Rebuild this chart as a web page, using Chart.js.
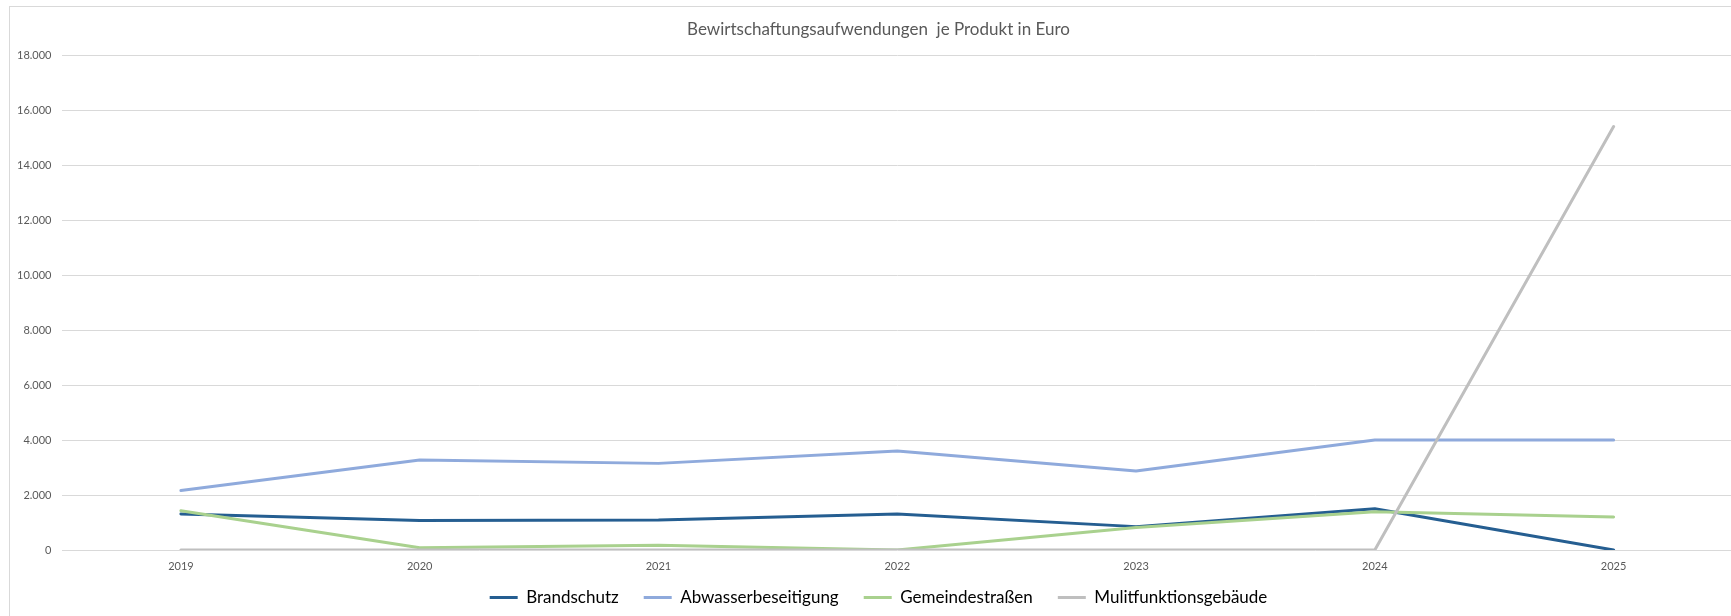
<!DOCTYPE html>
<html>
<head>
<meta charset="utf-8">
<script src="https://cdn.jsdelivr.net/npm/chart.js@4/dist/chart.umd.min.js"></script>
<style>
  html, body { margin: 0; padding: 0; background: #ffffff; overflow: hidden; width: 1731px; height: 616px; }
  #frame { position: absolute; left: 9px; top: 6px; width: 2000px; height: 2000px;
           border-left: 1px solid #d9d9d9; border-top: 1px solid #d9d9d9; }
  #c { position: absolute; left: 0; top: 0; }
</style>
</head>
<body>
<div id="frame"></div>
<canvas id="c" width="1735" height="616"></canvas>
<script>
const title = 'Bewirtschaftungsaufwendungen  je Produkt in Euro';
const years = ['2019', '2020', '2021', '2022', '2023', '2024', '2025'];
const seriesNames = ['Brandschutz', 'Abwasserbeseitigung', 'Gemeindestraßen', 'Mulitfunktionsgebäude'];
const brandschutz = [1310, 1070, 1090, 1310, 850, 1500, 0];
const abwasserbeseitigung = [2160, 3270, 3150, 3600, 2870, 4000, 4000];
const gemeindestrassen = [1430, 80, 170, 0, 820, 1390, 1200];
const mulitfunktionsgebaeude = [0, 0, 0, 0, 0, 0, 15400];
const yMin = 0, yMax = 18000, yStep = 2000;

const colors = ['#255E91', '#8FAADC', '#A9D18E', '#BFBFBF'];
const values = [brandschutz, abwasserbeseitigung, gemeindestrassen, mulitfunktionsgebaeude];
const drawOrder = [4, 3, 2, 1];

const FONT = 'Lato, "Open Sans", sans-serif';
const TEXT = '#595959';

function fmt(v) {
  return String(v).replace(/\B(?=(\d{3})+(?!\d))/g, '.');
}

const datasets = values.map((vals, i) => ({
  label: seriesNames[i],
  data: vals,
  borderColor: colors[i],
  backgroundColor: colors[i],
  borderWidth: 3,
  pointRadius: 0,
  pointHoverRadius: 0,
  tension: 0,
  fill: false,
  borderCapStyle: 'round',
  borderJoinStyle: 'round',
  order: drawOrder[i]
}));

// Let the tick labels extend beyond their (narrow) scale boxes instead of being clipped.
const unclipLabels = {
  id: 'unclipLabels',
  afterLayout(chart) {
    chart.scales.y.left = 0;
    chart.scales.x.bottom = chart.height;
  }
};

new Chart(document.getElementById('c'), {
  type: 'line',
  data: { labels: years, datasets },
  plugins: [unclipLabels],
  options: {
    responsive: false,
    animation: false,
    devicePixelRatio: 1,
    layout: { padding: { left: 24, right: 2, top: 0, bottom: 0 } },
    plugins: {
      title: {
        display: true,
        text: title,
        color: TEXT,
        font: { family: FONT, size: 17, weight: 'normal' },
        padding: { top: 19, bottom: 15.6 }
      },
      legend: {
        position: 'bottom',
        labels: {
          color: TEXT,
          font: { family: FONT, size: 17 },
          boxWidth: 28,
          boxHeight: 3,
          padding: 25,
          sort: (a, b) => a.datasetIndex - b.datasetIndex,
          generateLabels: (chart) => chart.data.datasets.map((ds, i) => ({
            text: ds.label,
            fillStyle: ds.borderColor,
            strokeStyle: ds.borderColor,
            lineWidth: 0,
            hidden: false,
            datasetIndex: i
          }))
        }
      },
      tooltip: { enabled: false }
    },
    scales: {
      x: {
        offset: true,
        grid: { display: false, drawTicks: false },
        border: { display: false },
        ticks: { color: TEXT, font: { family: FONT, size: 11 }, padding: 10, maxRotation: 0 },
        afterFit: (s) => { s.height = 14; }
      },
      y: {
        min: yMin,
        max: yMax,
        grid: { color: '#d9d9d9', lineWidth: 1, drawTicks: false },
        border: { display: false },
        ticks: {
          stepSize: yStep,
          color: TEXT,
          font: { family: FONT, size: 11 },
          padding: 10,
          callback: (v) => fmt(v)
        },
        afterFit: (s) => { s.width = 37.5; }
      }
    }
  }
});
</script>
</body>
</html>
